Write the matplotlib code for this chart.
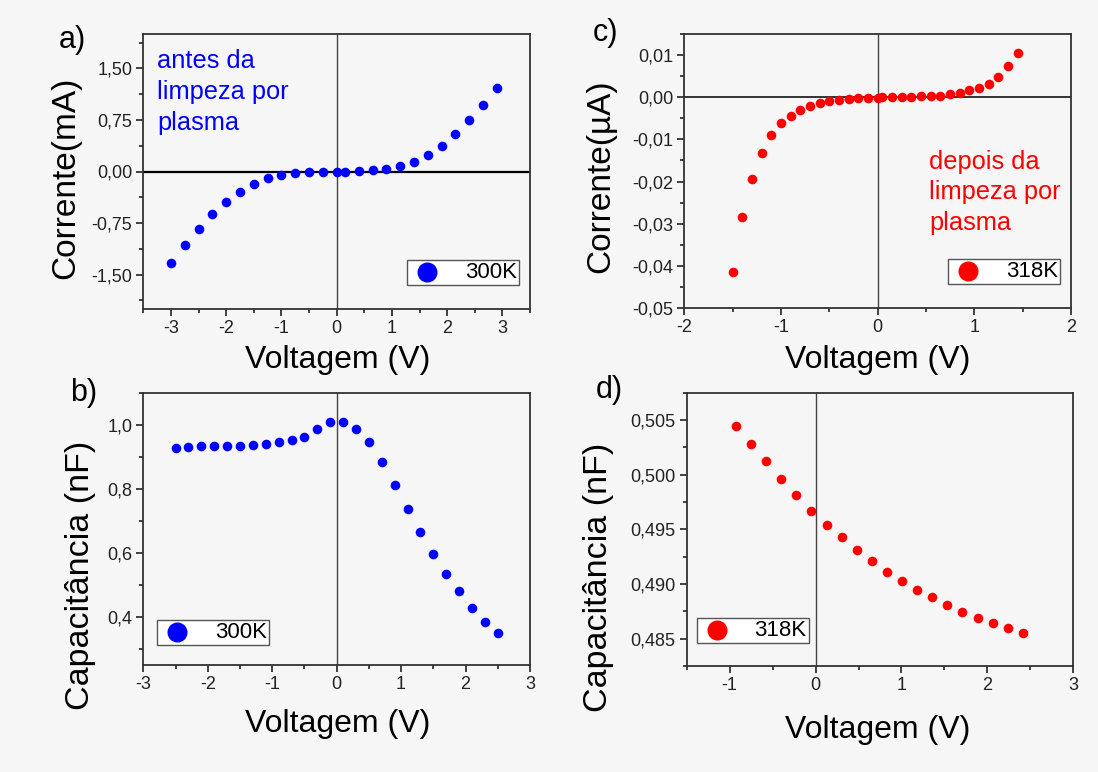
import matplotlib
matplotlib.use("Agg")
import matplotlib.pyplot as plt
from matplotlib.ticker import MultipleLocator, FuncFormatter

plt.rcParams['font.family'] = ['Liberation Sans', 'DejaVu Sans']
plt.rcParams['axes.unicode_minus'] = False

# a) I-V before plasma cleaning (300K)
va_volt = [-3.0, -2.75, -2.5, -2.25, -2.0, -1.75, -1.5, -1.25, -1.0, -0.75, -0.5, -0.25, 0.0,
           0.15, 0.4, 0.65, 0.9, 1.15, 1.4, 1.65, 1.9, 2.15, 2.4, 2.65, 2.9]
va_curr = [-1.334, -1.07, -0.835, -0.625, -0.445, -0.298, -0.181, -0.093, -0.044, -0.015, -0.005, 0.0, 0.0,
           0.0, 0.005, 0.015, 0.034, 0.073, 0.137, 0.239, 0.376, 0.542, 0.743, 0.967, 1.216]

# b) C-V before plasma cleaning (300K)
vb_volt = [-2.5, -2.3, -2.1, -1.9, -1.7, -1.5, -1.3, -1.1, -0.9, -0.7, -0.5, -0.3, -0.1,
           0.1, 0.3, 0.5, 0.7, 0.9, 1.1, 1.3, 1.5, 1.7, 1.9, 2.1, 2.3, 2.5]
vb_cap = [0.929, 0.932, 0.933, 0.933, 0.934, 0.935, 0.937, 0.940, 0.945, 0.951, 0.963, 0.987, 1.010,
          1.009, 0.987, 0.945, 0.884, 0.812, 0.738, 0.665, 0.597, 0.535, 0.481, 0.428, 0.385, 0.352]

# c) I-V after plasma cleaning (318K)
vc_volt = [-1.5, -1.4, -1.3, -1.2, -1.1, -1.0, -0.9, -0.8, -0.7, -0.6, -0.5, -0.4, -0.3, -0.2, -0.1, 0.0,
           0.05, 0.15, 0.25, 0.35, 0.45, 0.55, 0.65, 0.75, 0.85, 0.95, 1.05, 1.15, 1.25, 1.35, 1.45]
vc_curr = [-0.04156, -0.0284, -0.0194, -0.01325, -0.00907, -0.00623, -0.00442, -0.0030, -0.00205,
           -0.00126, -0.00087, -0.00063, -0.0004, -0.0003, -0.0002, -0.00015,
           0.0, 0.0, 0.0, 0.0001, 0.0002, 0.0002, 0.0004, 0.0007, 0.001, 0.0016, 0.0022,
           0.0032, 0.0049, 0.0073, 0.0106]

# d) C-V after plasma cleaning (318K)
vd_volt = [-0.93, -0.752, -0.578, -0.40, -0.225, -0.05, 0.128, 0.302, 0.48, 0.659, 0.829, 1.008,
           1.182, 1.36, 1.535, 1.709, 1.888, 2.066, 2.24, 2.415]
vd_cap = [0.50442, 0.50281, 0.50126, 0.49959, 0.4981, 0.4967, 0.49543, 0.49427, 0.49312, 0.49208,
          0.49111, 0.49032, 0.48947, 0.48877, 0.4881, 0.48743, 0.48691, 0.48643, 0.48594, 0.48555]

BLUE = '#0000ff'
RED = '#ff0000'
W, H = 1098, 772
BG = '#f6f6f6'


def px_axes(fig, left, right, top, bottom):
    return fig.add_axes([left / W, 1 - bottom / H, (right - left) / W, (bottom - top) / H])


def comma_fmt(decimals):
    def f(v, p):
        if abs(v) < 1e-12:
            v = 0.0
        return f"{v:.{decimals}f}".replace('.', ',')
    return FuncFormatter(f)


def style_axes(ax, xlim, ylim, xmaj, xmin, ymaj, ymin, ydec):
    ax.set_facecolor(BG)
    ax.set_xlim(*xlim)
    ax.set_ylim(*ylim)
    ax.xaxis.set_major_locator(MultipleLocator(xmaj))
    ax.xaxis.set_minor_locator(MultipleLocator(xmin))
    ax.yaxis.set_major_locator(MultipleLocator(ymaj))
    ax.yaxis.set_minor_locator(MultipleLocator(ymin))
    ax.xaxis.set_major_formatter(FuncFormatter(lambda v, p: f"{v:g}"))
    ax.yaxis.set_major_formatter(comma_fmt(ydec))
    ax.tick_params(which='both', direction='out', top=False, right=False, labelsize=13,
                   colors='#222222', width=1.2)
    ax.tick_params(which='major', length=5, pad=3)
    ax.tick_params(which='minor', length=3)
    for s in ax.spines.values():
        s.set_linewidth(1.3)
        s.set_color('#333333')
    ax.axvline(0, color='#444444', lw=1.0, zorder=1)


def add_legend(ax, color, label, anchor, loc):
    ax.scatter([], [], s=180, color=color, label=label)
    leg = ax.legend(loc=loc, bbox_to_anchor=anchor, fontsize=16, frameon=True, fancybox=False,
                    framealpha=1, edgecolor='#555555', borderpad=0.1, handletextpad=0.9,
                    handlelength=1.6, borderaxespad=0, scatterpoints=1)
    leg.get_frame().set_linewidth(1.0)
    leg.get_frame().set_facecolor('white')


fig = plt.figure(figsize=(W / 100, H / 100), dpi=100, facecolor=BG)

ax_a = px_axes(fig, 143.3, 530, 34, 309)
ax_b = px_axes(fig, 143.3, 530, 392.7, 665.3)
ax_c = px_axes(fig, 684.3, 1071, 34, 308)
ax_d = px_axes(fig, 686.7, 1073.3, 392.7, 666)

ms = 48

# a
style_axes(ax_a, (-3.5, 3.5), (-2.0, 2.0), 1, 0.5, 0.75, 0.375, 2)
ax_a.axhline(0, color='black', lw=1.6, zorder=1)
ax_a.scatter(va_volt, va_curr, s=ms, color=BLUE, zorder=3, linewidths=0)
ax_a.text(0.035, 0.945, "antes da\nlimpeza por\nplasma", transform=ax_a.transAxes, color=BLUE,
          fontsize=18.3, va='top', ha='left', linespacing=1.36)
add_legend(ax_a, BLUE, "300K", (0.972, 0.087), 'lower right')

# b
style_axes(ax_b, (-3, 3), (0.25, 1.1), 1, 0.5, 0.2, 0.1, 1)
ax_b.scatter(vb_volt, vb_cap, s=ms, color=BLUE, zorder=3, linewidths=0)
add_legend(ax_b, BLUE, "300K", (0.035, 0.073), 'lower left')

# c
style_axes(ax_c, (-2, 2), (-0.05, 0.015), 1, 0.5, 0.01, 0.005, 2)
ax_c.axhline(0, color='#333333', lw=1.4, zorder=1)
ax_c.scatter(vc_volt, vc_curr, s=ms, color=RED, zorder=3, linewidths=0)
ax_c.text(0.633, 0.578, "depois da\nlimpeza por\nplasma", transform=ax_c.transAxes, color=RED,
          fontsize=18.3, va='top', ha='left', linespacing=1.36)
add_legend(ax_c, RED, "318K", (0.972, 0.0865), 'lower right')

# d
style_axes(ax_d, (-1.5, 3), (0.4825, 0.5075), 1, 0.5, 0.005, 0.0025, 3)
ax_d.scatter(vd_volt, vd_cap, s=ms, color=RED, zorder=3, linewidths=0)
add_legend(ax_d, RED, "318K", (0.026, 0.083), 'lower left')

# axis labels
for x, y in [(338, 360), (338, 724), (878, 360), (878, 730)]:
    fig.text(x / W, 1 - y / H, "Voltagem (V)", fontsize=23, ha='center', va='center')
fig.text(66 / W, 1 - 178 / H, "Corrente(mA)", fontsize=24, rotation=90, ha='center', va='center')
fig.text(80 / W, 1 - 575 / H, "Capacitância (nF)", fontsize=24.5, rotation=90, ha='center', va='center')
fig.text(601 / W, 1 - 176 / H, "Corrente(\u00b5A)", fontsize=24, rotation=90, ha='center', va='center')
fig.text(599 / W, 1 - 577 / H, "Capacitância (nF)", fontsize=24.5, rotation=90, ha='center', va='center')

# panel letters
for lab, x, y in [("a)", 72, 40), ("b)", 84, 393), ("c)", 605, 33), ("d)", 609, 390)]:
    fig.text(x / W, 1 - y / H, lab, fontsize=22, ha='center', va='center')

fig.savefig("out.png", dpi=100, facecolor=BG)
